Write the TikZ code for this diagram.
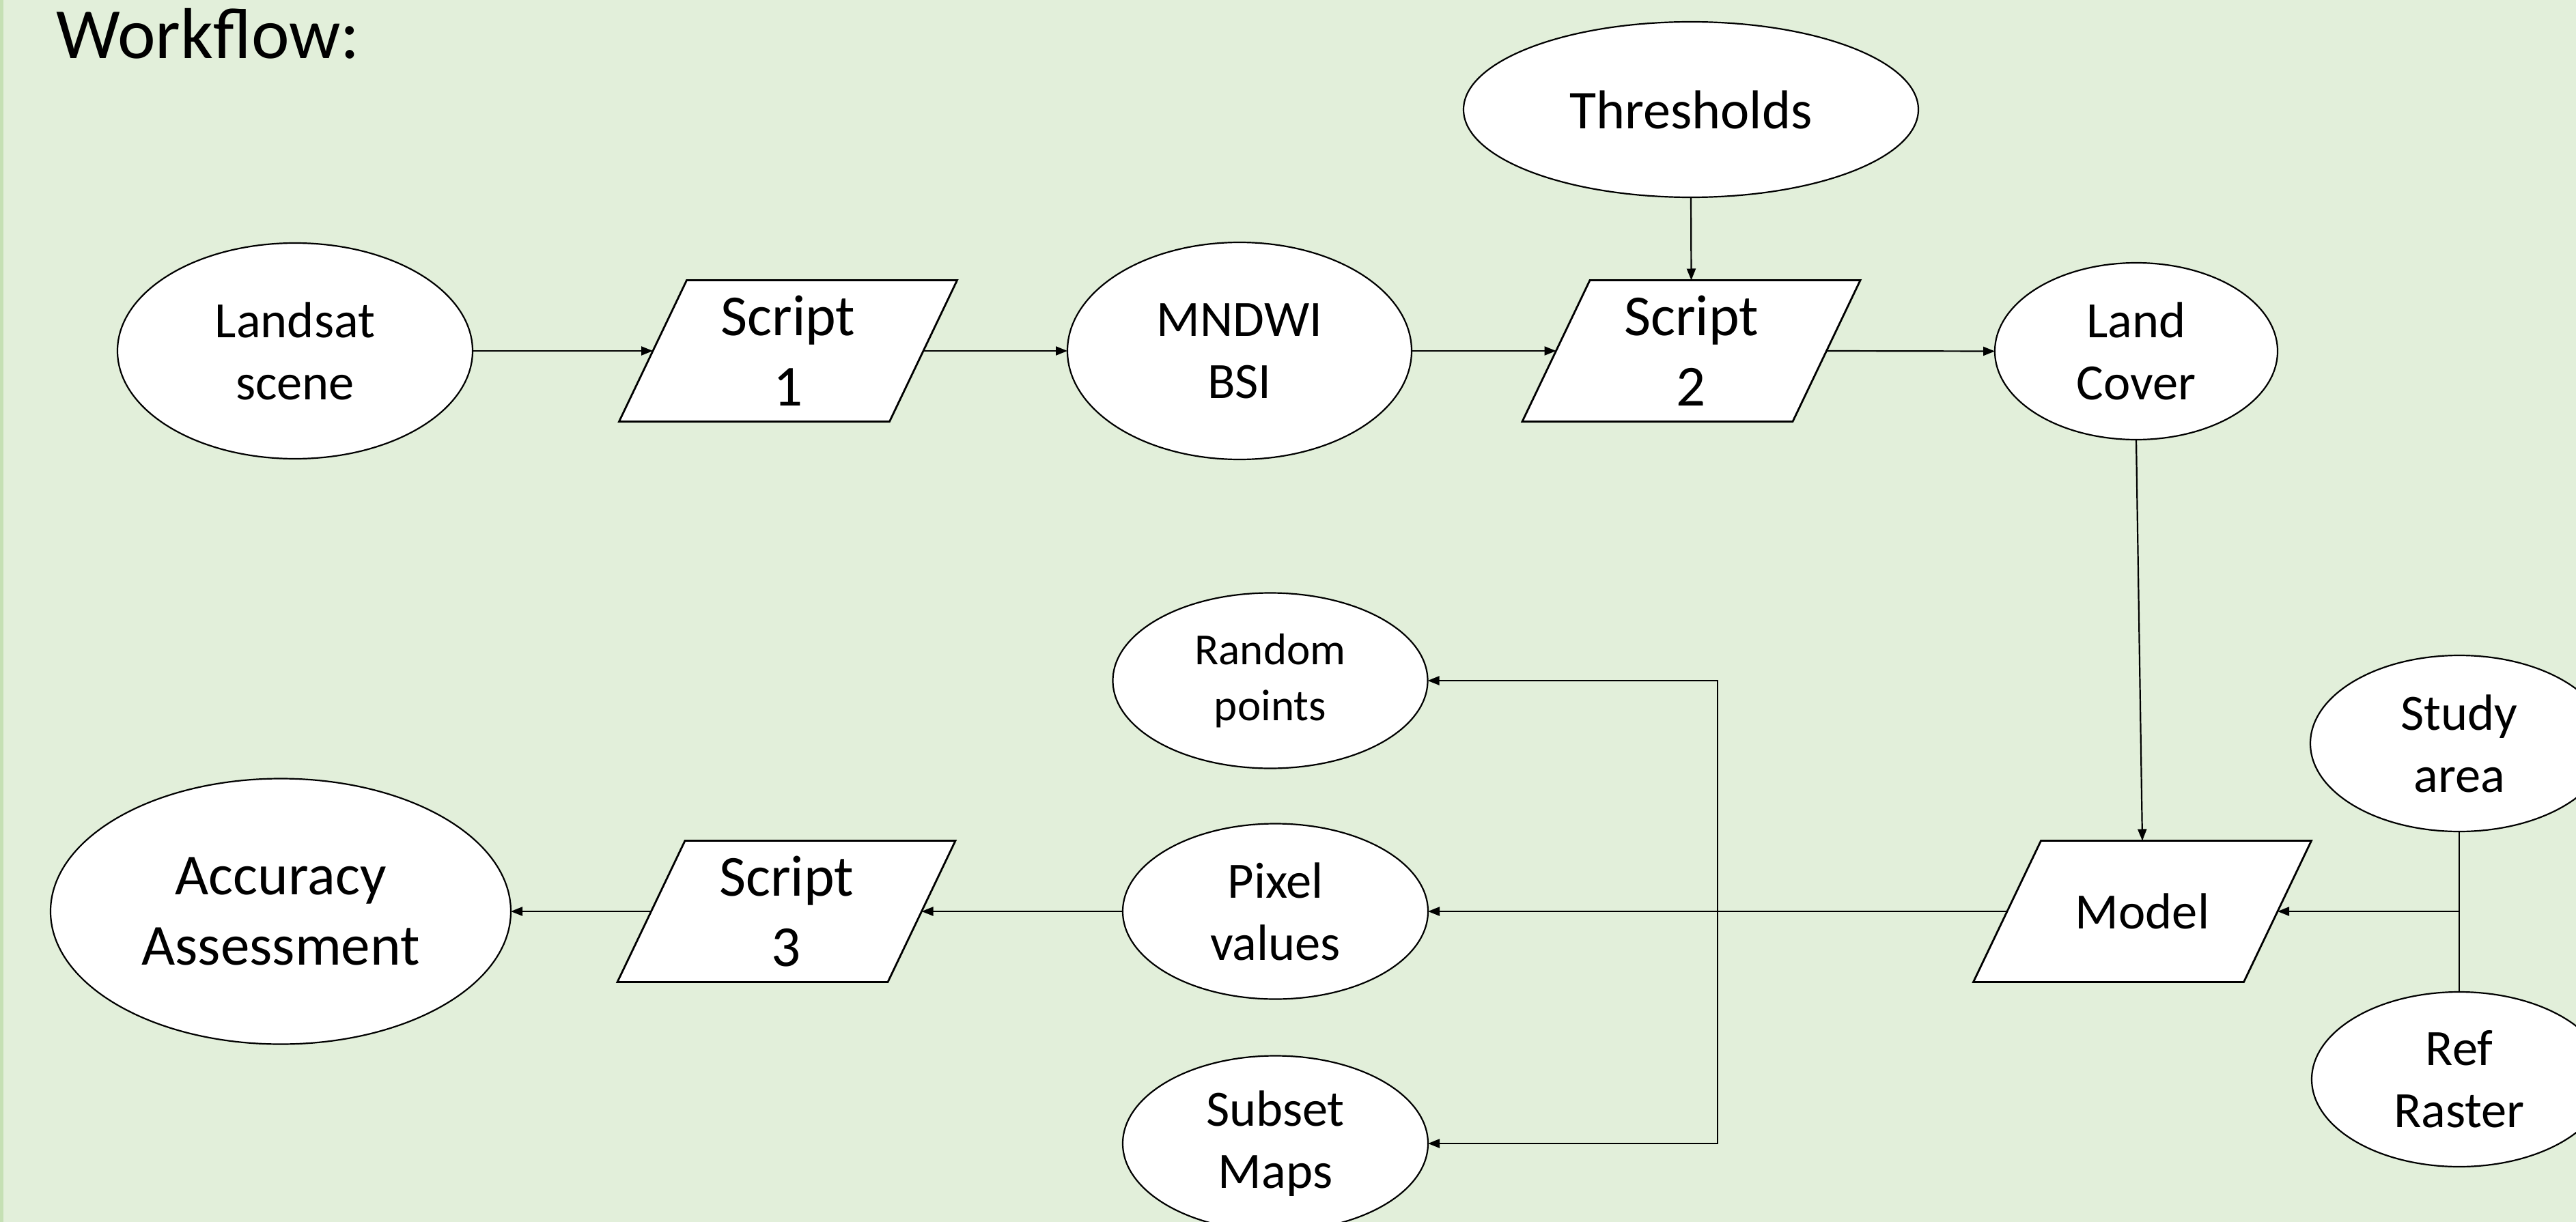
\documentclass[tikz,border=0pt]{standalone}
\usepackage{fontspec}
\setmainfont{Carlito}
\usetikzlibrary{shapes.geometric,arrows.meta}
\definecolor{bggreen}{HTML}{E2EFDA}
\definecolor{stripegreen}{HTML}{C5E0B4}
\tikzset{
  oval/.style={ellipse, draw=black, fill=white, line width=0.022cm, inner sep=0pt, outer sep=0pt, align=center,
     font=\fontsize{21.2pt}{25.9pt}\selectfont},
  paratext/.style={rectangle, minimum width=3.96cm, minimum height=2.07cm, inner sep=0pt, outer sep=0pt, align=center,
     font=\fontsize{24.2pt}{29.3pt}\selectfont},
  parashape/.style={draw=black, fill=white, line width=0.028cm},
  conn/.style={line width=0.022cm, draw=black},
  arr/.style={conn, -{Triangle[length=0.17cm, width=0.13cm]}}
}
\newcommand\paranode[3]{%
  \draw[parashape, shift={#2}] (-2.475,-1.035) -- (1.485,-1.035) -- (2.475,1.035) -- (-1.485,1.035) -- cycle;
  \node[paratext] (#1) at #2 {#3};
}
\begin{document}
\begin{tikzpicture}
\useasboundingbox (0,0) rectangle (37.72,-17.90);
\clip (0,0) rectangle (37.72,-17.90);
\fill[bggreen] (0,0) rectangle (37.72,-17.90);
\fill[stripegreen] (0,0) rectangle (0.05,-17.90);

\node[anchor=base west, inner sep=0pt, font=\fontsize{30pt}{36pt}\selectfont] (title) at (0.82,-0.86) {Workflow:};

% top row
\node[oval, minimum width=5.20cm, minimum height=3.16cm] (landsat) at (4.32,-5.14) {Landsat\\scene};
\paranode{script1}{(11.54,-5.14)}{Script\\1}
\node[oval, minimum width=5.04cm, minimum height=3.18cm] (mndwi) at (18.15,-5.14) {MNDWI\\BSI};
\node[oval, minimum width=6.66cm, minimum height=2.57cm, font=\fontsize{22.8pt}{27.8pt}\selectfont] (thresholds) at (24.76,-1.605) {Thresholds};
\paranode{script2}{(24.765,-5.14)}{Script\\2}
\node[oval, minimum width=4.14cm, minimum height=2.59cm] (landcover) at (31.28,-5.145) {Land\\Cover};

% right side
\paranode{model}{(31.37,-13.35)}{\fontsize{21.2pt}{25.9pt}\selectfont Model}
\node[oval, minimum width=4.36cm, minimum height=2.58cm] (study) at (36.01,-10.89) {Study\\area};
\node[oval, minimum width=4.32cm, minimum height=2.56cm] (refraster) at (36.01,-15.81) {Ref\\Raster};

% middle column
\node[oval, minimum width=4.61cm, minimum height=2.57cm, font=\fontsize{18.5pt}{23.5pt}\selectfont] (random) at (18.60,-9.97) {Random\\points};
\node[oval, minimum width=4.47cm, minimum height=2.57cm] (pixel) at (18.675,-13.35) {Pixel\\values};
\node[oval, minimum width=4.47cm, minimum height=2.57cm] (subset) at (18.675,-16.75) {Subset\\Maps};

% bottom left
\paranode{script3}{(11.515,-13.35)}{Script\\3}
\node[oval, minimum width=6.74cm, minimum height=3.89cm, font=\fontsize{24.2pt}{29.3pt}\selectfont] (accuracy) at (4.11,-13.35) {Accuracy\\Assessment};

% connectors
\draw[arr] (landsat.east) -- (script1.west);
\draw[arr] (script1.east) -- (mndwi.west);
\draw[arr] (mndwi.east) -- (script2.west);
\draw[arr] (thresholds.south) -- (script2.north);
\draw[arr] (script2.east) -- (landcover.west);
\draw[arr] (landcover.south) -- (model.north);

\draw[arr] (model.west) -- (pixel.east);
\coordinate (jn) at (25.15,-13.35);
\draw[arr] (jn) |- (random.east);
\draw[arr] (jn) |- (subset.east);
\draw[arr] (pixel.west) -- (script3.east);
\draw[arr] (script3.west) -- (accuracy.east);

\draw[conn] (study.south) -- (refraster.north);
\coordinate (sj) at (study.south |- model.east);
\draw[arr] (sj) -- (model.east);
\end{tikzpicture}
\end{document}
